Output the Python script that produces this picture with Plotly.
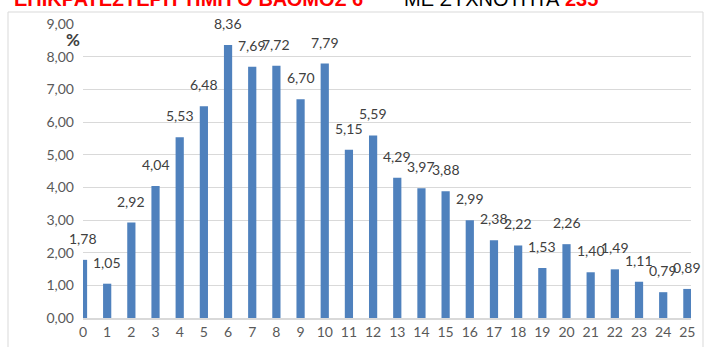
import plotly.graph_objects as go

grades = list(range(0, 26))
percent = [1.78, 1.05, 2.92, 4.04, 5.53, 6.48, 8.36, 7.69, 7.72, 6.70, 7.79, 5.15, 5.59,
           4.29, 3.97, 3.88, 2.99, 2.38, 2.22, 1.53, 2.26, 1.40, 1.49, 1.11, 0.79, 0.89]
y_ticks = [0, 1, 2, 3, 4, 5, 6, 7, 8, 9]
title_red = "ΕΠΙΚΡΑΤΕΣΤΕΡΗ ΤΙΜΗ Ο ΒΑΘΜΟΣ 6"
title_black = "ΜΕ ΣΥΧΝΟΤΗΤΑ"
title_freq = "235"

W, H = 711, 347
L, R, T, B = 83, 20, 24, 29
pw, ph = W - L - R, H - T - B

def px(xp):
    return (xp - L) / pw

def py(yp):
    return (H - B - yp) / ph

FONT = "Lato"
fig = go.Figure()
fig.add_trace(go.Bar(x=grades, y=percent, width=0.34,
                     marker=dict(color="#4F81BD", line=dict(width=0)),
                     hoverinfo="skip"))

ann = []
for g, v in zip(grades, percent):
    ann.append(dict(x=g, y=v, xref="x", yref="y", text=f"{v:.2f}".replace(".", ","),
                    showarrow=False, yanchor="bottom", xanchor="center", yshift=11,
                    font=dict(family=FONT, size=14, color="#404040")))
ann.append(dict(x=px(73), y=py(40), xref="paper", yref="paper", text="<b>%</b>",
                showarrow=False, xanchor="center", yanchor="middle",
                font=dict(family=FONT, size=17, color="#404040")))
ann.append(dict(x=px(365), y=py(-1), xref="paper", yref="paper", text=f"<b>{title_red}</b>",
                showarrow=False, xanchor="right", yanchor="middle",
                font=dict(family="Liberation Sans", size=20, color="#FF0000")))
ann.append(dict(x=px(402), y=py(-1), xref="paper", yref="paper", text=title_black,
                showarrow=False, xanchor="left", yanchor="middle",
                font=dict(family="Liberation Sans", size=20, color="#000000")))
ann.append(dict(x=px(563), y=py(-1), xref="paper", yref="paper", text=f"<b>{title_freq}</b>",
                showarrow=False, xanchor="left", yanchor="middle",
                font=dict(family="Liberation Sans", size=20, color="#FF0000")))

fig.update_layout(
    width=W, height=H,
    margin=dict(l=L, r=R, t=T, b=B, pad=0, autoexpand=False),
    paper_bgcolor="white", plot_bgcolor="white",
    separators=",.",
    showlegend=False,
    hovermode=False,
    annotations=ann,
    shapes=[dict(type="rect", xref="paper", yref="paper",
                 x0=px(8), x1=px(703), y0=py(352), y1=py(12),
                 line=dict(color="#D9D9D9", width=1), layer="below")],
    xaxis=dict(range=[0, 25.15], tickmode="array", tickvals=grades,
               ticktext=[str(g) for g in grades], showgrid=False, automargin=False,
               showline=True, linecolor="#D9D9D9", linewidth=2,
               ticks="", ticklen=0,
               tickfont=dict(family=FONT, size=14, color="#595959"), zeroline=False),
    yaxis=dict(range=[0, 9], tickmode="array", tickvals=y_ticks, automargin=False,
               ticktext=[f"{t:.2f}".replace(".", ",") for t in y_ticks],
               showgrid=True, gridcolor="#D9D9D9", gridwidth=1,
               zeroline=False, showline=False, ticks="", ticklabelstandoff=8,
               tickfont=dict(family=FONT, size=14, color="#595959")),
)
fig.write_html("out.html", config={"displayModeBar": False},
               post_script="document.body.style.margin='0';")
